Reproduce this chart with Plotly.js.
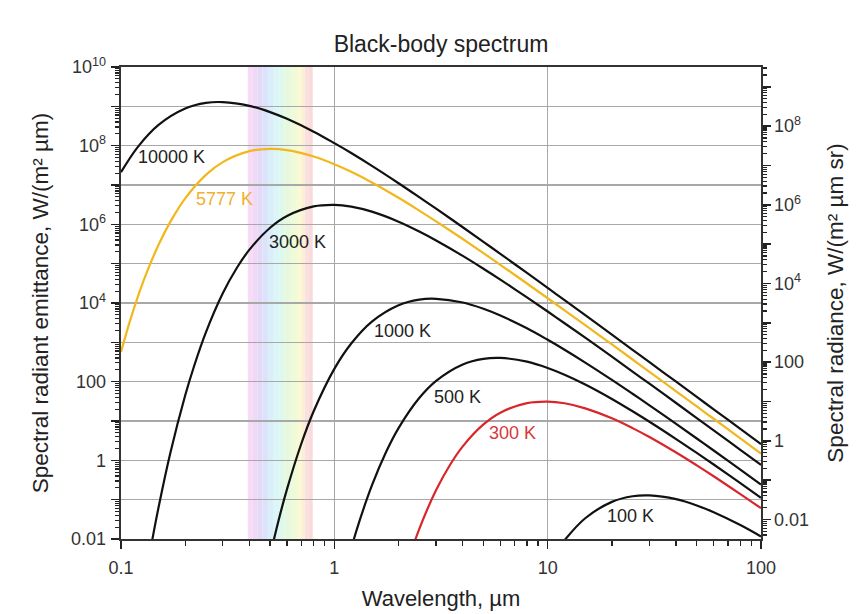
<!DOCTYPE html>
<html>
<head>
<meta charset="utf-8">
<script src="https://cdn.plot.ly/plotly-3.0.1.min.js"></script>
<style>html,body{margin:0;padding:0;background:#fff;}#chart{width:859px;height:614px;}</style>
</head>
<body>
<div id="chart"></div>
<script>
// ---- data (wavelength in µm, spectral radiant emittance in W/(m² µm)) ----
const seriesNames = ['10000 K', '5777 K', '3000 K', '1000 K', '500 K', '300 K', '100 K'];

const wl10000 = [0.1,0.12,0.15,0.2,0.25,0.3,0.4,0.5,0.6,0.8,1,1.2,1.5,2,2.5,3,4,5,6,8,10,12,15,20,25,30,40,50,60,80,100];
const m10000  = [2.11e7,9.33e7,3.37e8,8.79e8,1.22e9,1.28e9,1.03e9,7.14e8,4.81e8,2.27e8,1.16e8,6.49e7,3.06e7,1.11e7,4.92e6,2.50e6,8.44e5,3.59e5,1.78e5,5.80e4,2.42e4,1.18e4,4.90e3,1.57e3,647,313,99.8,41.0,19.8,6.29,2.58];

const wl5777 = [0.1,0.11,0.12,0.13,0.15,0.17,0.2,0.25,0.3,0.4,0.5,0.6,0.8,1,1.2,1.5,2,2.5,3,4,5,6,8,10,12,15,20,25,30,40,50,60,80,100];
const m5777  = [571,3.41e3,1.46e4,4.82e4,3.03e5,1.14e6,4.57e6,1.81e7,3.82e7,7.24e7,8.28e7,7.70e7,5.31e7,3.38e7,2.16e7,1.16e7,4.73e6,2.24e6,1.19e6,4.23e5,1.86e5,9.35e4,3.13e4,1.32e4,6.52e3,2.73e3,882,366,178,56.9,23.4,11.4,3.61,1.48];

const wl3000 = [0.13,0.14,0.15,0.17,0.2,0.22,0.25,0.3,0.35,0.4,0.5,0.6,0.8,1,1.2,1.5,2,2.5,3,4,5,6,8,10,12,15,20,25,30,40,50,60,80,100];
const m3000  = [9.5e-4,9.2e-3,0.064,1.47,45.0,247,1.79e3,1.76e4,7.97e4,2.27e5,8.18e5,1.63e6,2.85e6,3.12e6,2.82e6,2.10e6,1.17e6,6.59e5,3.90e5,1.58e5,7.44e4,3.93e4,1.39e4,6.08e3,3.06e3,1.31e3,432,181,88.8,28.7,11.9,5.78,1.85,0.762];

const wl1000 = [0.5,0.55,0.6,0.7,0.8,1,1.2,1.5,2,2.5,3,4,5,6,8,10,12,15,20,25,30,40,50,60,80,100];
const m1000  = [0.0038,0.0324,0.185,2.64,17.7,211,933,3.37e3,8.79e3,1.22e4,1.28e4,1.03e4,7.14e3,4.81e3,2.27e3,1.16e3,649,306,111,49.2,25.0,8.44,3.59,1.78,0.580,0.242];

const wl500 = [1.2,1.3,1.5,1.75,2,2.5,3,4,5,6,8,10,12,15,20,25,30,40,50,60,80,100];
const m500  = [0.0058,0.0246,0.230,1.65,6.60,38.4,105,275,380,401,322,223,150,84.8,36.4,17.7,9.57,3.47,1.54,0.782,0.264,0.112];

const wl300 = [2.2,2.5,3,3.5,4,5,6,8,10,12,15,20,25,30,40,50,60,80,100];
const m300  = [0.00247,0.0179,0.176,0.797,2.27,8.18,16.3,28.5,31.2,28.2,21.0,11.7,6.59,3.90,1.58,0.744,0.393,0.139,0.0608];

const wl100 = [10,11,12,15,20,25,30,40,50,60,80,100];
const m100  = [0.00211,0.00485,0.00933,0.0337,0.0879,0.122,0.128,0.103,0.0714,0.0481,0.0227,0.0116];

// visible band (µm) and its pastel colours
const bandEdges  = [0.393,0.415,0.438,0.46,0.488,0.52,0.555,0.585,0.625,0.667,0.70,0.728,0.76,0.792];
const bandColors = ['#f6dcf6','#efd9f7','#e3daf8','#dbe2fa','#d9edfa','#dcf5f6','#dff8ec','#e6f9df','#eefad8','#f9f9d3','#fcefd8','#fbe0e0','#fadadb'];

// ticks and tick labels
const xTickVals = [0.1, 1, 10, 100];
const xTickText = ['0.1', '1', '10', '100'];
const yDecades  = [0.01,0.1,1,10,100,1e3,1e4,1e5,1e6,1e7,1e8,1e9,1e10];
const yLabelVals = [0.01, 1, 100, 1e4, 1e6, 1e8, 1e10];
const yLabelText = ['0.01', '1', '100', '10<sup>4</sup>', '10<sup>6</sup>', '10<sup>8</sup>', '10<sup>10</sup>'];
const y2Decades  = [0.01,0.1,1,10,100,1e3,1e4,1e5,1e6,1e7,1e8,1e9];
const y2LabelVals = [0.01, 1, 100, 1e4, 1e6, 1e8];
const y2LabelText = ['0.01', '1', '100', '10<sup>4</sup>', '10<sup>6</sup>', '10<sup>8</sup>'];

// ---- drawing ----
const curves = [
  {x: wl10000, y: m10000, c: '#111111'},
  {x: wl5777,  y: m5777,  c: '#f2b71c'},
  {x: wl3000,  y: m3000,  c: '#111111'},
  {x: wl1000,  y: m1000,  c: '#111111'},
  {x: wl500,   y: m500,   c: '#111111'},
  {x: wl300,   y: m300,   c: '#d9262b'},
  {x: wl100,   y: m100,   c: '#111111'}
];
const traces = curves.map((s, i) => ({
  type: 'scatter', mode: 'lines', x: s.x, y: s.y, name: seriesNames[i],
  line: {color: s.c, width: 2.2, shape: 'spline', smoothing: 1},
  hoverinfo: 'skip', showlegend: false
}));
// invisible helpers so that the overlay axes are drawn
['y2', 'y3', 'y4'].forEach(ax => traces.push({type: 'scatter', mode: 'markers', x: [1], y: [1], yaxis: ax,
  marker: {opacity: 0}, hoverinfo: 'skip', showlegend: false}));

const shapes = bandColors.map((col, i) => ({
  type: 'rect', xref: 'x', yref: 'paper', x0: bandEdges[i], x1: bandEdges[i + 1], y0: 0, y1: 1,
  fillcolor: col, line: {width: 0}, layer: 'below'
}));

const FONT = 'Liberation Sans, Arial, sans-serif';
const labelPos = [[-0.761, 7.71], [-0.513, 6.644], [-0.173, 5.55], [0.3185, 3.29], [0.576, 1.61], [0.836, 0.694], [1.389, -1.416]];
const labelColors = ['#222', '#f0b030', '#222', '#222', '#222', '#d63a3a', '#222'];
const annotations = seriesNames.map((t, i) => ({
  text: t, x: labelPos[i][0], y: labelPos[i][1], xref: 'x', yref: 'y', showarrow: false,
  font: {family: FONT, size: 18, color: labelColors[i]}
}));

const tickFont = {family: FONT, size: 18, color: '#333'};
const minorTicks = {ticks: 'outside', ticklen: 4, tickwidth: 1.2, tickcolor: '#222', dtick: 'D1', showgrid: false};
const rightRange = [Math.log10(0.01 / Math.PI), Math.log10(1e10 / Math.PI)];

const layout = {
  width: 859, height: 614,
  margin: {l: 121, r: 98, t: 67, b: 75},
  paper_bgcolor: '#ffffff', plot_bgcolor: 'rgba(0,0,0,0)',
  font: {family: FONT, color: '#222'},
  title: {text: 'Black-body spectrum', x: 0.5, xref: 'paper', xanchor: 'center',
          y: 1 - 44 / 614, yref: 'container', yanchor: 'middle',
          font: {family: FONT, size: 23, color: '#222'}},
  xaxis: {
    type: 'log', range: [-1, 2], tickmode: 'array', tickvals: xTickVals, ticktext: xTickText,
    ticks: 'outside', ticklen: 8, tickwidth: 1.5, tickcolor: '#222',
    showline: true, linecolor: '#333', linewidth: 2, mirror: true, zeroline: false,
    showgrid: true, gridcolor: '#a8a8a8', gridwidth: 1.5,
    tickfont: tickFont, ticklabelstandoff: 3,
    minor: Object.assign({}, minorTicks, {ticklen: 5, tickwidth: 1.3}),
    title: {text: 'Wavelength, µm', font: {family: FONT, size: 22, color: '#222'}, standoff: 14}
  },
  // left axis: decade ticks, grid and minor ticks
  yaxis: {
    type: 'log', range: [-2, 10], tickmode: 'array', tickvals: yDecades, showticklabels: false,
    ticks: 'outside', ticklen: 8, tickwidth: 1.5, tickcolor: '#222',
    showline: true, linecolor: '#333', linewidth: 2, zeroline: false,
    showgrid: true, gridcolor: '#a8a8a8', gridwidth: 1.5,
    minor: minorTicks
  },
  // left axis labels and title
  yaxis3: {
    type: 'log', range: [-2, 10], overlaying: 'y', side: 'left',
    tickmode: 'array', tickvals: yLabelVals, ticktext: yLabelText, ticks: '',
    showline: false, showgrid: false, zeroline: false,
    tickfont: tickFont, ticklabelstandoff: 14,
    title: {text: 'Spectral radiant emittance, W/(m² µm)', font: {family: FONT, size: 22.5, color: '#222'}, standoff: 16}
  },
  // right axis: radiance = emittance / π
  yaxis2: {
    type: 'log', overlaying: 'y', side: 'right', range: rightRange,
    tickmode: 'array', tickvals: y2Decades, showticklabels: false,
    ticks: 'outside', ticklen: 8, tickwidth: 1.5, tickcolor: '#222',
    showline: true, linecolor: '#333', linewidth: 2, zeroline: false, showgrid: false,
    minor: minorTicks
  },
  yaxis4: {
    type: 'log', overlaying: 'y', side: 'right', range: rightRange,
    tickmode: 'array', tickvals: y2LabelVals, ticktext: y2LabelText, ticks: '',
    showline: false, showgrid: false, zeroline: false,
    tickfont: tickFont, ticklabelstandoff: 12,
    title: {text: 'Spectral radiance, W/(m² µm sr)', font: {family: FONT, size: 22.5, color: '#222'}, standoff: 19}
  },
  shapes: shapes,
  annotations: annotations,
  hovermode: false,
  showlegend: false
};

Plotly.newPlot('chart', traces, layout, {displayModeBar: false, staticPlot: true});
</script>
</body>
</html>
